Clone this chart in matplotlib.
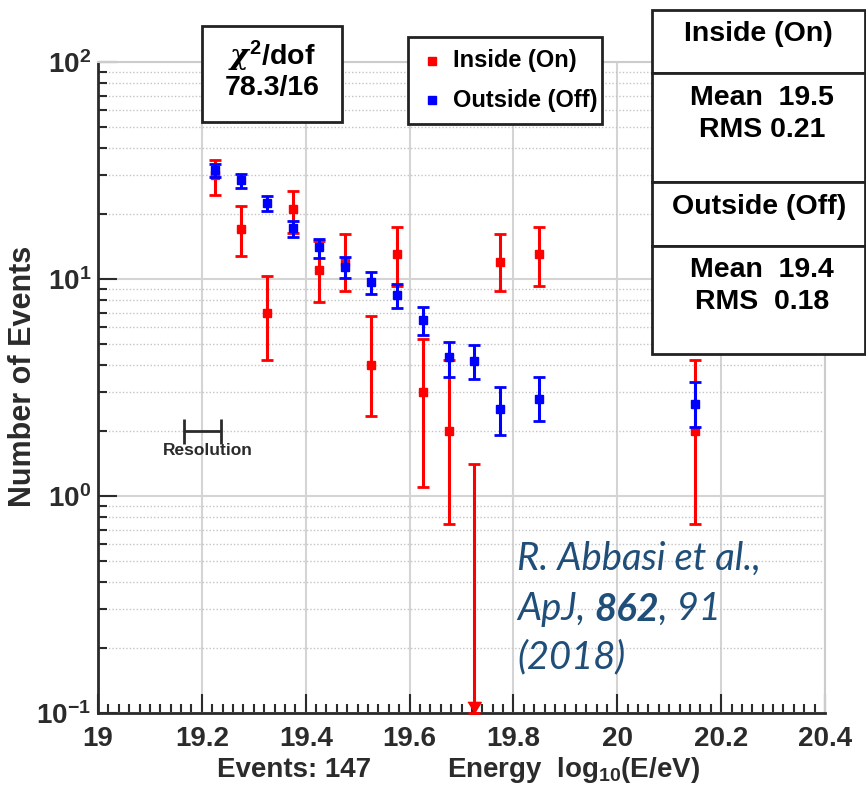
import numpy as np
import matplotlib
matplotlib.use('Agg')
import matplotlib.pyplot as plt
from matplotlib.patches import Rectangle
from matplotlib.lines import Line2D
from matplotlib.ticker import FixedLocator, FuncFormatter, AutoMinorLocator, LogLocator, NullFormatter

plt.rcParams['font.family'] = ['Liberation Sans', 'DejaVu Sans']
plt.rcParams['font.weight'] = 'bold'
plt.rcParams['mathtext.fontset'] = 'custom'
plt.rcParams['mathtext.rm'] = 'Liberation Sans:bold'
plt.rcParams['mathtext.bf'] = 'Liberation Sans:bold'
plt.rcParams['mathtext.it'] = 'DejaVu Serif:italic'

# Inside (On) - Zaehlwerte mit asymmetrischen Fehlern
x_on = [19.225, 19.275, 19.325, 19.375, 19.425, 19.475, 19.525, 19.575, 19.625, 19.675, 19.775, 19.85, 20.15]
n_on = [30, 17, 7, 21, 11, 12, 4, 13, 3, 2, 12, 13, 2]
lo_on = [24.3, 12.8, 4.23, 16.3, 7.8, 8.8, 2.34, 9.3, 1.1, 0.74, 8.83, 9.28, 0.74]
hi_on = [35.5, 21.8, 10.3, 25.5, 14.9, 16.2, 6.77, 17.3, 5.27, 4.23, 16.2, 17.3, 4.23]
# leeres Bin -> obere Grenze
x_zero = 19.725
zero_hi = 1.4

# Outside (Off) - normiert
x_off = [19.225, 19.275, 19.325, 19.375, 19.425, 19.475, 19.525, 19.575, 19.625, 19.675, 19.725, 19.775, 19.85, 20.15]
n_off = [31.8, 28.6, 22.3, 17.1, 14.1, 11.4, 9.72, 8.41, 6.47, 4.36, 4.19, 2.52, 2.80, 2.65]
lo_off = [29.4, 26.4, 20.5, 15.6, 12.5, 10.1, 8.53, 7.33, 5.52, 3.55, 3.45, 1.92, 2.22, 2.07]
hi_off = [33.9, 30.4, 24.0, 18.6, 15.3, 12.6, 10.8, 9.45, 7.45, 5.11, 4.96, 3.19, 3.55, 3.34]

# Aufloesungsbalken
res_x0, res_x1, res_y = 19.165, 19.237, 2.0

W, H = 866, 792
def fx(p):
    return p / W
def fy(p):
    return 1 - p / H

dark = '#2b2b2b'
fig = plt.figure(figsize=(W / 100, H / 100), dpi=100)
ax = fig.add_axes([fx(98), fy(713), fx(825) - fx(98), fy(62) - fy(713)])

ax.set_yscale('log')
ax.set_xlim(19, 20.4)
ax.set_ylim(0.1, 100)

# Gitter
ax.set_axisbelow(True)
ax.grid(which='major', color='#d4d4d4', lw=1.5, ls='-')
ax.yaxis.grid(which='minor', color='#c4c4c4', lw=1.0, ls=(0, (1, 1.5)))

# Daten
n_on = np.array(n_on)
ax.errorbar(x_on, n_on, yerr=[n_on - np.array(lo_on), np.array(hi_on) - n_on],
            fmt='s', ms=5.5, color='#ff0000', elinewidth=2.2, capsize=4, capthick=2, zorder=3)
ax.errorbar([x_zero], [zero_hi], yerr=[[zero_hi - 0.1], [0]], fmt='none', ecolor='#ff0000',
            elinewidth=2.2, capsize=4, capthick=2, zorder=3, clip_on=False)
ax.plot([x_zero], [0.1], marker=[(-0.6, 1), (0.6, 1), (0, 0)], ms=16, color='#ff0000',
        ls='none', clip_on=False, zorder=4)
n_off = np.array(n_off)
ax.errorbar(x_off, n_off, yerr=[n_off - np.array(lo_off), np.array(hi_off) - n_off],
            fmt='s', ms=5.5, color='#0000ff', elinewidth=2.2, capsize=4, capthick=2, zorder=4)

# Aufloesung
ax.errorbar([(res_x0 + res_x1) / 2], [res_y], xerr=[(res_x1 - res_x0) / 2], fmt='none',
            ecolor=dark, elinewidth=2, capsize=9, capthick=2, zorder=3)
ax.text((res_x0 + res_x1) / 2 + 0.011, res_y * 0.88, 'Resolution', ha='center', va='top',
        fontsize=12.5, color=dark)

# Achsen
ax.yaxis.set_major_locator(FixedLocator([0.1, 1, 10, 100]))
ylabels = {0.1: r'$\mathbf{10}^{\mathbf{-1}}$', 1: r'$\mathbf{10}^{\mathbf{0}}$',
           10: r'$\mathbf{10}^{\mathbf{1}}$', 100: r'$\mathbf{10}^{\mathbf{2}}$'}
ax.yaxis.set_major_formatter(FuncFormatter(lambda v, p: ylabels.get(round(v, 1), '')))
ax.yaxis.set_minor_locator(LogLocator(base=10, subs=np.arange(2, 10)))
ax.yaxis.set_minor_formatter(NullFormatter())
ax.xaxis.set_major_locator(FixedLocator(np.arange(19, 20.41, 0.2)))
ax.xaxis.set_major_formatter(FuncFormatter(lambda v, p: f'{round(v, 1):g}'))
ax.xaxis.set_minor_locator(AutoMinorLocator(10))

ax.tick_params(which='both', direction='in', top=False, right=False, color=dark, width=1.5,
               labelcolor=dark)
ax.tick_params(which='major', length=13.5)
ax.tick_params(which='minor', length=6.5)
ax.tick_params(axis='x', labelsize=20, pad=9)
ax.tick_params(axis='y', labelsize=20, pad=5)

for s in ['left', 'bottom']:
    ax.spines[s].set_color(dark)
    ax.spines[s].set_linewidth(2)
for s in ['top', 'right']:
    ax.spines[s].set_color('#cccccc')
    ax.spines[s].set_linewidth(1.5)

fig.text(fx(23), fy(376), 'Number of Events', rotation=90, ha='center', va='center',
         fontsize=22, color=dark)
fig.text(fx(294), fy(770), 'Events: 147', ha='center', va='center', fontsize=20, color=dark)
fig.text(fx(447), fy(770), r'Energy  log$_{\mathbf{10}}$(E/eV)', ha='left', va='center',
         fontsize=20, color=dark)

# chi2 Box
fig.add_artist(Rectangle((fx(201.7), fy(122.3)), fx(140.6), 96.6 / H, transform=fig.transFigure,
                         facecolor='white', edgecolor='#222222', lw=2, zorder=5))
fig.text(fx(272), fy(56), r'$\chi^{\mathbf{2}}$/dof', ha='center', va='center', fontsize=20.5,
         color='black', zorder=6)
fig.text(fx(272), fy(88), '78.3/16', ha='center', va='center', fontsize=20.5, color='black', zorder=6)

# Legende
fig.add_artist(Rectangle((fx(408), fy(124)), fx(194), 87 / H, transform=fig.transFigure,
                         facecolor='white', edgecolor='#222222', lw=2, zorder=5))
for yy, col, lab in [(61, '#ff0000', 'Inside (On)'), (100, '#0000ff', 'Outside (Off)')]:
    fig.add_artist(Line2D([fx(431.7)], [fy(yy)], marker='s', ms=5.5, color=col, ls='none',
                          transform=fig.transFigure, zorder=6))
    fig.text(fx(453), fy(yy), lab, ha='left', va='center', fontsize=17, color='black', zorder=6)

# Statistik-Box
edges = [10, 73.3, 182.3, 245.7, 354]
for y0, y1 in zip(edges[:-1], edges[1:]):
    fig.add_artist(Rectangle((fx(651.7), fy(y1)), fx(865 - 651.7), (y1 - y0) / H,
                             transform=fig.transFigure, facecolor='white', edgecolor='#222222',
                             lw=2, zorder=5, clip_on=False))
for xx, yy, s in [(758, 34, 'Inside (On)'), (762, 98, 'Mean  19.5'), (762, 130, 'RMS 0.21'),
                  (758.7, 207, 'Outside (Off)'), (762, 270, 'Mean  19.4'), (762, 302, 'RMS  0.18')]:
    fig.text(fx(xx), fy(yy), s, ha='center', va='center', fontsize=20.5, color='black', zorder=6)

# Zitat
cite_col = '#1f4e79'
cite_fs = 27.5
fig.text(fx(517), fy(570), 'R. Abbasi et al.,', ha='left', va='baseline', fontsize=cite_fs,
         family='Lato', style='italic', weight='normal', color=cite_col)
t1 = fig.text(fx(517), fy(620), 'ApJ, ', ha='left', va='baseline', fontsize=cite_fs,
              family='Lato', style='italic', weight='normal', color=cite_col)
t2 = ax.annotate('862', xy=(1, 0), xycoords=t1, ha='left', va='bottom', fontsize=cite_fs,
                 family='Lato', style='italic', weight='bold', color=cite_col)
ax.annotate(', 91', xy=(1, 0), xycoords=t2, ha='left', va='bottom', fontsize=cite_fs,
            family='Lato', style='italic', weight='normal', color=cite_col)
fig.text(fx(517), fy(668), '(2018)', ha='left', va='baseline', fontsize=cite_fs,
         family='Lato', style='italic', weight='normal', color=cite_col)

fig.savefig('out.png', dpi=100)
